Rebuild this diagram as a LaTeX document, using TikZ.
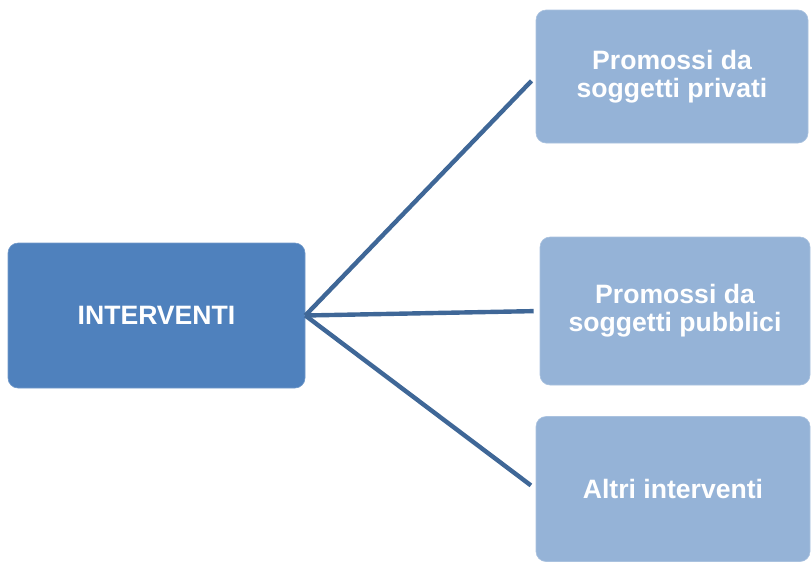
\documentclass[tikz,border=0pt]{standalone}
\usepackage{fontspec}
\setmainfont{Liberation Sans}
\definecolor{mainblue}{HTML}{4F81BD}
\definecolor{lightblue}{HTML}{95B3D7}
\definecolor{linkblue}{HTML}{3F6797}
\tikzset{
  box/.style={rectangle, rounded corners=10pt, inner sep=0pt, align=center, text=white,
    font=\fontsize{26.6}{28}\selectfont\bfseries},
  mainbox/.style={box, fill=mainblue, draw=mainblue!80!white, line width=0.6pt},
  subbox/.style={box, fill=lightblue, draw=lightblue!80!white, line width=0.6pt},
  link/.style={draw=linkblue, line width=4.4pt, shorten >=6pt}
}
\begin{document}
\begin{tikzpicture}[x=1pt,y=-1pt]
  \useasboundingbox (0,0) rectangle (811,563);
  \node[mainbox, minimum width=297pt, minimum height=145pt] (main) at (156.5,315.5) {INTERVENTI};
  \node[subbox, minimum width=272pt, minimum height=133pt] (b1) at (672,76.5) {Promossi da\\soggetti privati};
  \node[subbox, minimum width=270pt, minimum height=148pt] (b2) at (675,311) {Promossi da\\soggetti pubblici};
  \node[subbox, minimum width=274pt, minimum height=145pt] (b3) at (673,489) {Altri interventi};
  \draw[link] (main.east) -- (b1.west);
  \draw[link] (main.east) -- (b2.west);
  \draw[link] (main.east) -- (b3.west);
\end{tikzpicture}
\end{document}
